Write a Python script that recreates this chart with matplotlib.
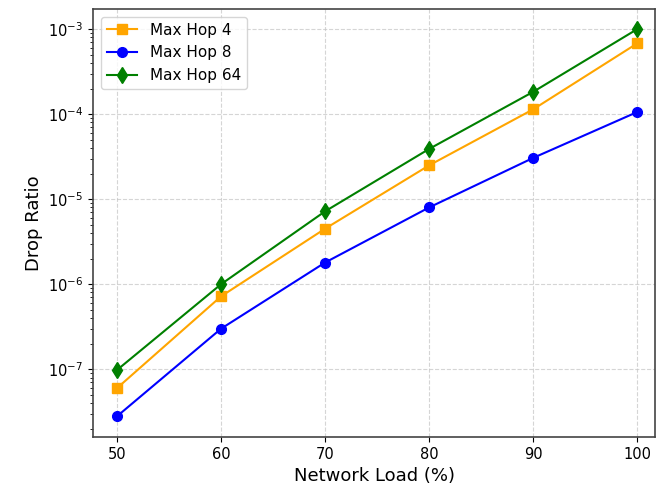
import numpy as np
import matplotlib.pyplot as plt

# Network load levels (%)
loads = [50, 60, 70, 80, 90, 100]

# Drop ratio for each hop limit
drop_hop4 = [6.0e-8, 7.2e-7, 4.5e-6, 2.5e-5, 1.14e-4, 6.8e-4]
drop_hop8 = [2.8e-8, 3.0e-7, 1.8e-6, 8.0e-6, 3.06e-5, 1.06e-4]
drop_hop64 = [9.8e-8, 1.0e-6, 7.2e-6, 3.9e-5, 1.83e-4, 1.0e-3]

fig = plt.figure(figsize=(6.57, 4.93), dpi=100)
ax = fig.add_axes([0.1416, 0.1136, 0.8554, 0.8681])

ax.plot(loads, drop_hop4, color="orange", marker="s", markersize=7, linewidth=1.5, label="Max Hop 4")
ax.plot(loads, drop_hop8, color="blue", marker="o", markersize=7, linewidth=1.5, label="Max Hop 8")
ax.plot(loads, drop_hop64, color="green", marker="d", markersize=8, linewidth=1.5, label="Max Hop 64")

ax.set_yscale("log")
ax.set_xlim(47.7, 101.7)
ax.set_ylim(1.6e-8, 1.72e-3)
ax.set_xticks(loads)

ax.set_xlabel("Network Load (%)", fontsize=13)
ax.set_ylabel("Drop Ratio", fontsize=13)
ax.tick_params(labelsize=10.5)
ax.grid(True, which="major", linestyle="--", color="#c4c4c4", alpha=0.7)
ax.legend(loc="upper left", fontsize=11)

for sp in ax.spines.values():
    sp.set_color("#444444")
    sp.set_linewidth(1.2)

plt.savefig("out.png", dpi=100)
plt.close()
